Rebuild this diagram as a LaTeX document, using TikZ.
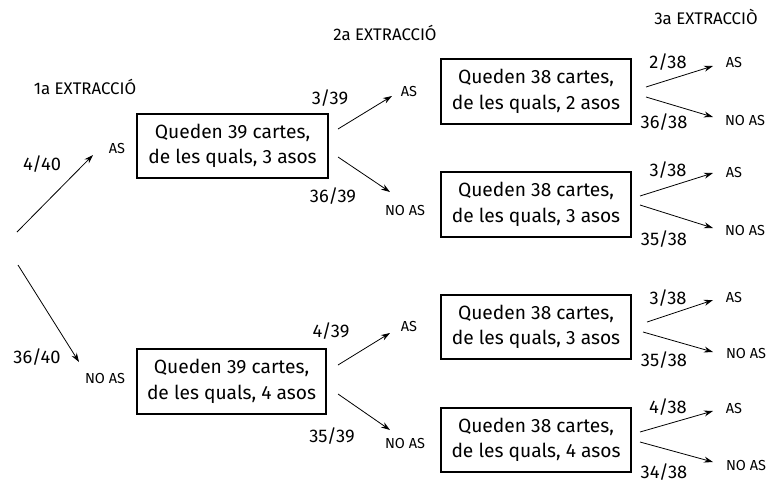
\documentclass[tikz,border=0pt]{standalone}
\usepackage{fontspec}
\setmainfont{Fira Sans}
\usetikzlibrary{arrows.meta}
\begin{document}
\begin{tikzpicture}[x=1pt,y=-1pt,
  box/.style={draw,line width=1.6pt,minimum width=190pt,minimum height=65pt,align=center,inner sep=0pt,font=\fontsize{19.2}{25.5}\selectfont},
  frac/.style={font=\fontsize{18.3}{20}\selectfont,inner sep=0pt},
  small/.style={font=\fontsize{14.5}{16}\selectfont,inner sep=0pt},
  head/.style={font=\fontsize{16.8}{18}\selectfont,inner sep=0pt},
  arr/.style={-{Stealth[length=9pt,width=6pt]},line width=0.8pt}]
\useasboundingbox (0,0) rectangle (769,483);
% headings
\node[head] (h1) at (85,87) {1a EXTRACCIÓ};
\node[head] (h2) at (385,33) {2a EXTRACCIÓ};
\node[head] (h3) at (706,17) {3a EXTRACCIÒ};
% boxes
\node[box,minimum width=191pt,minimum height=64pt] (b1) at (232.5,146) {Queden 39 cartes,\\de les quals, 3 asos};
\node[box,minimum width=189pt] (b2) at (231.5,381.5) {Queden 39 cartes,\\de les quals, 4 asos};
\node[box] (bA) at (536,91.5) {Queden 38 cartes,\\de les quals, 2 asos};
\node[box] (bB) at (536,204.5) {Queden 38 cartes,\\de les quals, 3 asos};
\node[box,minimum height=64pt] (bC) at (536,327) {Queden 38 cartes,\\de les quals, 3 asos};
\node[box,minimum height=64pt] (bD) at (536,440) {Queden 38 cartes,\\de les quals, 4 asos};
% level 0
\coordinate (r0a) at (17,232);
\coordinate (r0b) at (18,265);
\coordinate (e1) at (93,155);
\coordinate (e2) at (79,362);
\draw[arr] (r0a) -- (e1);
\draw[arr] (r0b) -- (e2);
\node[frac] (f1) at (42,164) {4/40};
\node[small] (l1) at (117,148) {AS};
\node[frac] (f2) at (37,357) {36/40};
\node[small] (l2) at (105,378) {NO AS};
% level 1 from b1
\coordinate (s1u) at (338,129);
\coordinate (t1u) at (392,96);
\coordinate (s1d) at (338,157);
\coordinate (t1d) at (390,192);
\draw[arr] (s1u) -- (t1u);
\draw[arr] (s1d) -- (t1d);
\node[frac] (f3) at (330,98) {3/39};
\node[small] (l3) at (409,91) {AS};
\node[frac] (f4) at (333,196) {36/39};
\node[small] (l4) at (405,210) {NO AS};
% level 1 from b2
\coordinate (s2u) at (338,365);
\coordinate (t2u) at (390,333);
\coordinate (s2d) at (338,394);
\coordinate (t2d) at (390,430);
\draw[arr] (s2u) -- (t2u);
\draw[arr] (s2d) -- (t2d);
\node[frac] (f5) at (331,331) {4/39};
\node[small] (l5) at (409,326) {AS};
\node[frac] (f6) at (332,436) {35/39};
\node[small] (l6) at (405,443) {NO AS};
% level 2 A
\coordinate (sAu) at (646,87); \coordinate (tAu) at (713,66);
\coordinate (sAd) at (646,97); \coordinate (tAd) at (713,117);
\draw[arr] (sAu) -- (tAu); \draw[arr] (sAd) -- (tAd);
\node[frac] (fA1) at (668,62) {2/38};
\node[small] (lA1) at (734,63) {AS};
\node[frac] (fA2) at (664,122) {36/38};
\node[small] (lA2) at (745,120) {NO AS};
% level 2 B
\coordinate (sBu) at (640,196); \coordinate (tBu) at (713,173);
\coordinate (sBd) at (640,205); \coordinate (tBd) at (713,228);
\draw[arr] (sBu) -- (tBu); \draw[arr] (sBd) -- (tBd);
\node[frac] (fB1) at (668,170) {3/38};
\node[small] (lB1) at (734,172) {AS};
\node[frac] (fB2) at (664,239) {35/38};
\node[small] (lB2) at (745,230) {NO AS};
% level 2 C
\coordinate (sCu) at (647,322); \coordinate (tCu) at (713,300);
\coordinate (sCd) at (643,332); \coordinate (tCd) at (713,352);
\draw[arr] (sCu) -- (tCu); \draw[arr] (sCd) -- (tCd);
\node[frac] (fC1) at (668,298) {3/38};
\node[small] (lC1) at (734,297) {AS};
\node[frac] (fC2) at (664,360) {35/38};
\node[small] (lC2) at (746,353) {NO AS};
% level 2 D
\coordinate (sDu) at (640,432); \coordinate (tDu) at (713,411);
\coordinate (sDd) at (640,442); \coordinate (tDd) at (713,462);
\draw[arr] (sDu) -- (tDu); \draw[arr] (sDd) -- (tDd);
\node[frac] (fD1) at (668,407) {4/38};
\node[small] (lD1) at (734,408) {AS};
\node[frac] (fD2) at (664,472) {34/38};
\node[small] (lD2) at (746,465) {NO AS};
\end{tikzpicture}
\end{document}
